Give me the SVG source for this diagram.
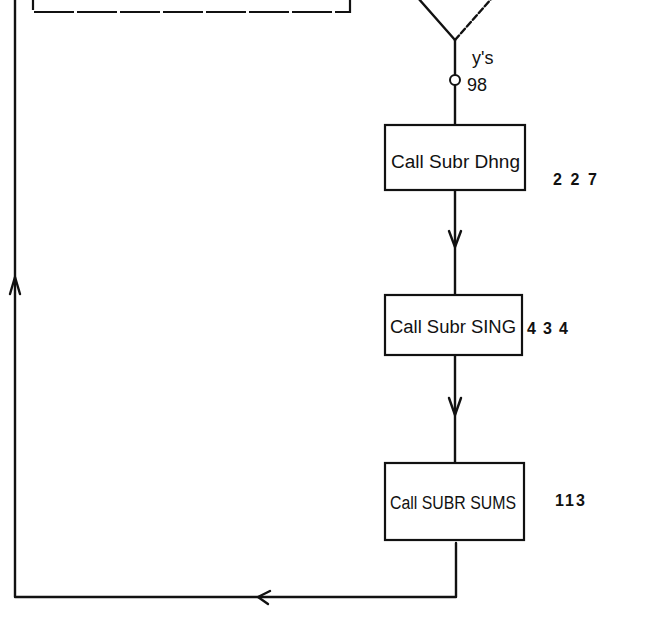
<svg xmlns="http://www.w3.org/2000/svg" width="661" height="634" viewBox="0 0 661 634">
<style>
.ln{fill:none;stroke:#111;stroke-width:2.4;stroke-linecap:round;stroke-linejoin:round}
.bx{fill:#fff;stroke:#111;stroke-width:2.2}
.t{font-family:"Liberation Sans","DejaVu Sans",sans-serif;font-size:18px;fill:#111}
.n{font-family:"Liberation Sans","DejaVu Sans",sans-serif;font-size:16px;font-weight:bold;fill:#111}
</style>
<rect width="661" height="634" fill="#fff"/>
<g id="connectors">
<line class="ln" x1="455" y1="40" x2="455" y2="75"/>
<line class="ln" x1="455" y1="85" x2="455" y2="125"/>
<line class="ln" x1="455" y1="190" x2="455" y2="295"/>
<polyline class="ln" points="449,231 455,247 461,231"/>
<line class="ln" x1="455" y1="355" x2="455" y2="463"/>
<polyline class="ln" points="449,398 455,415 461,398"/>
<polyline class="ln" points="456,543 456,597 15,597 15,0"/>
<polyline class="ln" points="270,591 258,597 268,604"/>
<polyline class="ln" points="10,294 15,277 20,294"/>
</g>
<g id="top-box">
<rect class="bx" x="33" y="-40" width="317" height="52" stroke-dasharray="40 3"/>
</g>
<g id="decision">
<line class="ln" x1="418" y1="-2" x2="455" y2="40"/>
<line class="ln" x1="455" y1="40" x2="492" y2="-2" stroke-width="1.4" stroke-dasharray="6 3"/>
<text class="t" x="472" y="64" font-size="17">y's</text>
</g>
<g id="connector-98">
<circle cx="455" cy="80" r="5" fill="#fff" stroke="#111" stroke-width="2"/>
<text class="t" x="467" y="91" font-size="18">98</text>
</g>
<g id="dhng">
<rect class="bx" x="385" y="125" width="140" height="65"/>
<text class="t" x="391" y="168" textLength="129" lengthAdjust="spacingAndGlyphs">Call Subr Dhng</text>
<text class="n" x="553" y="185" textLength="44" lengthAdjust="spacing">227</text>
</g>
<g id="sing">
<rect class="bx" x="385" y="295" width="137" height="60"/>
<text class="t" x="390" y="333" textLength="126" lengthAdjust="spacingAndGlyphs">Call Subr SING</text>
<text class="n" x="527" y="334" textLength="41" lengthAdjust="spacing">434</text>
</g>
<g id="sums">
<rect class="bx" x="385" y="463" width="139" height="77"/>
<text class="t" x="390" y="509" font-size="20" textLength="126" lengthAdjust="spacingAndGlyphs">Call SUBR SUMS</text>
<text class="n" x="555" y="506" textLength="30" lengthAdjust="spacing">113</text>
</g>
</svg>
